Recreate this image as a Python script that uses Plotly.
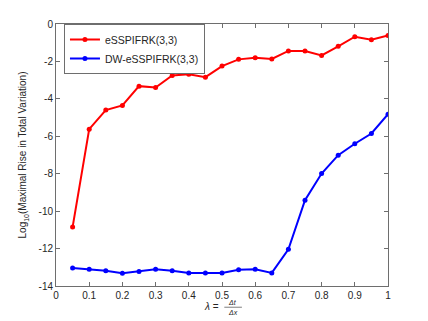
import plotly.graph_objects as go

# lambda = dt/dx values
lam = [0.05, 0.1, 0.15, 0.2, 0.25, 0.3, 0.35, 0.4, 0.45, 0.5,
       0.55, 0.6, 0.65, 0.7, 0.75, 0.8, 0.85, 0.9, 0.95, 1.0]

# log10 of maximal rise in total variation
essp = [-10.85, -5.62, -4.60, -4.35, -3.32, -3.39, -2.75, -2.68, -2.84, -2.25,
        -1.89, -1.80, -1.87, -1.44, -1.44, -1.68, -1.19, -0.68, -0.84, -0.61]
dw_essp = [-13.04, -13.11, -13.18, -13.32, -13.22, -13.11, -13.18, -13.30, -13.30, -13.30,
           -13.13, -13.11, -13.30, -12.04, -9.42, -7.99, -7.01, -6.40, -5.85, -4.82]

xticks = [0, 0.1, 0.2, 0.3, 0.4, 0.5, 0.6, 0.7, 0.8, 0.9, 1]
xtick_text = ['0', '0.1', '0.2', '0.3', '0.4', '0.5', '0.6', '0.7', '0.8', '0.9', '1']
yticks = [-14, -12, -10, -8, -6, -4, -2, 0]
ytick_text = ['-14', '-12', '-10', '-8', '-6', '-4', '-2', '0']

FONT = 'Liberation Sans, Arial, sans-serif'
AXC = '#6e6e6e'
TXT = '#262626'

fig = go.Figure()
fig.add_trace(go.Scatter(x=lam, y=essp, mode='lines+markers', name='eSSPIFRK(3,3)',
                         line=dict(color='#ff0000', width=2),
                         marker=dict(color='#ff0000', size=5, symbol='circle')))
fig.add_trace(go.Scatter(x=lam, y=dw_essp, mode='lines+markers', name='DW-eSSPIFRK(3,3)',
                         line=dict(color='#0000ff', width=2),
                         marker=dict(color='#0000ff', size=5, symbol='circle')))

axis_common = dict(showgrid=False, zeroline=False, showline=True, linecolor=AXC, linewidth=1,
                   mirror='ticks', ticks='inside', ticklen=4, tickcolor=AXC, automargin=False,
                   tickfont=dict(family=FONT, size=10, color=TXT))

fig.update_xaxes(range=[0, 1], tickvals=xticks, ticktext=xtick_text, **axis_common)
fig.update_yaxes(range=[-14, 0], tickvals=yticks, ticktext=ytick_text, **axis_common)

# y-axis label as a rotated annotation (keeps the margins fixed)
fig.add_annotation(text='Log<sub>10</sub>(Maximal Rise in Total Variation)',
                   x=-0.098, y=0.5, xref='paper', yref='paper', textangle=-90,
                   xanchor='center', yanchor='middle', showarrow=False,
                   font=dict(family=FONT, size=10, color=TXT))

# x-axis label: lambda = dt/dx as a stacked fraction
fig.add_annotation(text='<i>λ</i> =', x=0.497, y=-0.08, xref='paper', yref='paper',
                   xanchor='right', yanchor='middle', showarrow=False,
                   font=dict(family=FONT, size=10, color=TXT))
fig.add_annotation(text='<i>Δt</i>', x=0.533, y=-0.062, xref='paper', yref='paper',
                   xanchor='center', yanchor='middle', showarrow=False,
                   font=dict(family=FONT, size=7, color=TXT))
fig.add_annotation(text='<i>Δx</i>', x=0.533, y=-0.1, xref='paper', yref='paper',
                   xanchor='center', yanchor='middle', showarrow=False,
                   font=dict(family=FONT, size=7, color=TXT))
fig.add_shape(type='line', xref='paper', yref='paper', x0=0.507, x1=0.56, y0=-0.081, y1=-0.081,
              line=dict(color=TXT, width=0.6))

# the page body adds an 8px margin, so the figure is shrunk by that much
fig.update_layout(
    width=420, height=313,
    margin=dict(l=48, r=40, t=16, b=35),
    paper_bgcolor='white', plot_bgcolor='white',
    font=dict(family=FONT, size=10, color=TXT),
    showlegend=True,
    legend=dict(x=0.024, y=1.0, xanchor='left', yanchor='top',
                bgcolor='white', bordercolor=AXC, borderwidth=1,
                font=dict(family=FONT, size=10.5, color=TXT),
                itemwidth=30, tracegroupgap=0),
)

fig.write_html("out.html")
